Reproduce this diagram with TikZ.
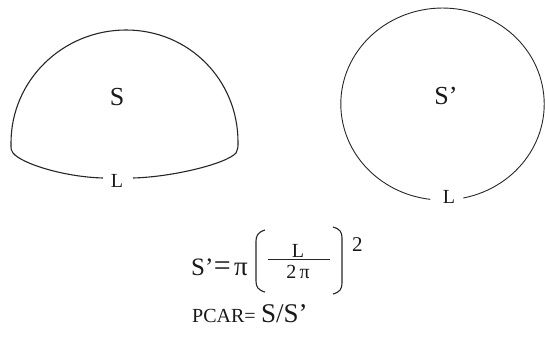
\documentclass[tikz,border=0pt]{standalone}
\usepackage{fontspec}
\setmainfont{Liberation Serif}
\newcommand{\fs}[1]{\fontsize{#1}{#1}\selectfont}
\begin{document}
\begin{tikzpicture}[x=1pt,y=-1pt,
  outline/.style={line width=1.1pt,black!85},
  circline/.style={line width=0.9pt,black!85},
  bracketline/.style={line width=1.1pt,black!85},
  areatxt/.style={inner sep=0pt,font=\fs{26},text=black!90},
  lentxt/.style={inner sep=0pt,font=\fs{20},text=black!90},
  frm/.style={inner sep=0pt,anchor=base west,text=black!90}]
\path[use as bounding box] (0,0) rectangle (545,338);
% dome
\draw[outline] (103,178) .. controls (65,177) and (22,164) .. (13,153)
  .. controls (11,150) .. (11,143)
  .. controls (11,80) and (63,30) .. (126,30)
  .. controls (189,30) and (238,80) .. (238,142)
  .. controls (238,148) .. (236,153)
  .. controls (226,164) and (172,177) .. (133,178);
\node[areatxt] (S) at (117,97) {S};
\node[lentxt] (L1) at (117,181) {L};
% circle
\draw[circline] (463.3,198) arc[start angle=281.8,end angle=623.1,x radius=101.7pt,y radius=96pt];
\node[areatxt] (Sp) at (446,96) {S’};
\node[lentxt] (L2) at (449,197) {L};
% formula
\node[frm,font=\fs{25}] (lhs) at (191,275) {S’};
\node[frm,font=\fs{30}] (eq) at (lhs.base east) {=};
\node[frm,font=\fs{27}] (pi) at (234,275) {π};
\node[lentxt,anchor=base] (num) at (298,257) {L};
\node[lentxt,anchor=base] (den) at (298,278) {2\,π};
\draw[line width=1pt,black!85] (268,259.7) -- (330,259.7);
\draw[bracketline] (265,230) .. controls (258,232) and (256,236) .. (256,241) -- (256,281)
  .. controls (256,287) and (258,290) .. (265,292);
\draw[bracketline] (333,227) .. controls (340,229) and (342,232) .. (342,238) -- (342,283)
  .. controls (342,289) and (340,292) .. (333,294);
\node[frm,font=\fs{21}] (sq) at (352,251) {2};
\node[frm,font=\fs{20}] (pcar) at (192,322) {PCAR=};
\node[frm,font=\fs{27}] (ratio) at (261,322) {S/S’};
\end{tikzpicture}
\end{document}
